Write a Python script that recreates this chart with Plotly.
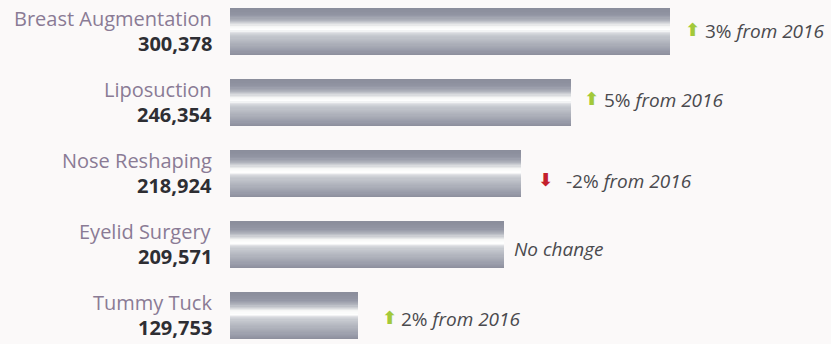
import plotly.graph_objects as go

# ---- data ----
categories = ["Breast Augmentation", "Liposuction", "Nose Reshaping", "Eyelid Surgery", "Tummy Tuck"]
values = [300378, 246354, 218924, 209571, 129753]
value_labels = ["300,378", "246,354", "218,924", "209,571", "129,753"]
change_direction = ["up", "up", "down", "none", "up"]
change_labels = ["3% <i>from 2016</i>", "5% <i>from 2016</i>", "-2% <i>from 2016</i>",
                 "<i>No change</i>", "2% <i>from 2016</i>"]

# ---- style ----
BG = "#fbf9f9"
FONT = "Open Sans"
name_color = "#8a7b95"
num_color = "#2e2e33"
note_color = "#4a4a4e"
arrow_colors = {"up": "#a3c93a", "down": "#c4202c"}
arrow_shift = [23, 20, 25, 0, 31]
text_shift = [33, 31, 43, 8, 41]
note_yshift = [1, 3, -7, -4, -3]

# gradient stops (fraction from top of bar, color)
stops = [
    (0.00, (0x8a, 0x8d, 0x9b)),
    (0.15, (0x92, 0x95, 0xa3)),
    (0.26, (0xb0, 0xb3, 0xbc)),
    (0.34, (0xda, 0xdc, 0xdf)),
    (0.39, (0xf6, 0xf7, 0xf6)),
    (0.47, (0xff, 0xff, 0xff)),
    (0.52, (0xda, 0xdc, 0xe0)),
    (0.60, (0xc4, 0xc7, 0xcd)),
    (0.78, (0xab, 0xae, 0xb8)),
    (0.92, (0x97, 0x9a, 0xa8)),
    (1.00, (0x8c, 0x8e, 0x9c)),
]


def grad(t):
    for (t0, c0), (t1, c1) in zip(stops[:-1], stops[1:]):
        if t0 <= t <= t1:
            f = (t - t0) / (t1 - t0) if t1 > t0 else 0
            c = [round(a + (b - a) * f) for a, b in zip(c0, c1)]
            return "rgb(%d,%d,%d)" % tuple(c)
    return "rgb(%d,%d,%d)" % stops[-1][1]


BAR_W = 0.66
N = 40
slice_w = BAR_W / N

fig = go.Figure()
for k in range(N):
    t = (k + 0.5) / N
    fig.add_trace(go.Bar(
        y=categories, x=values, orientation="h",
        width=slice_w * 1.8 if k < N - 1 else slice_w,
        offset=-BAR_W / 2 + k * slice_w,
        marker=dict(color=grad(t), line=dict(width=0)),
        hoverinfo="skip", showlegend=False,
    ))

annotations = []
for i, cat in enumerate(categories):
    annotations.append(dict(
        xref="paper", yref="y", x=-16 / 601, y=cat, xanchor="right", yanchor="middle",
        text=cat, showarrow=False, yshift=13,
        font=dict(family=FONT, size=20, color=name_color)))
    annotations.append(dict(
        xref="paper", yref="y", x=-16 / 601, y=cat, xanchor="right", yanchor="middle",
        text="<b>" + value_labels[i] + "</b>", showarrow=False, yshift=-12,
        font=dict(family=FONT, size=20, color=num_color)))
    d = change_direction[i]
    if d != "none":
        annotations.append(dict(
            xref="x", yref="y", x=values[i], y=cat, xanchor="center", yanchor="middle",
            text="<b>⬆</b>" if d == "up" else "<b>⬇</b>", showarrow=False,
            xshift=arrow_shift[i], yshift=note_yshift[i] + 1,
            font=dict(family="DejaVu Sans", size=18, color=arrow_colors[d])))
    annotations.append(dict(
        xref="x", yref="y", x=values[i], y=cat, xanchor="left", yanchor="middle",
        text=change_labels[i], showarrow=False,
        xshift=text_shift[i], yshift=note_yshift[i],
        font=dict(family=FONT, size=19, color=note_color)))

fig.update_layout(
    width=831, height=344,
    margin=dict(l=230, r=0, t=0, b=0),
    paper_bgcolor=BG, plot_bgcolor=BG,
    barmode="overlay", bargap=0,
    xaxis=dict(range=[59660, 388615], visible=False, showgrid=False, zeroline=False),
    yaxis=dict(type="category", categoryorder="array", categoryarray=categories,
               range=[4.395, -0.443], visible=False, showgrid=False, zeroline=False),
    annotations=annotations,
)

fig.write_html("out.html", config={"displayModeBar": False, "staticPlot": True},
               post_script="document.body.style.margin='0';document.body.style.background='%s';" % BG)
